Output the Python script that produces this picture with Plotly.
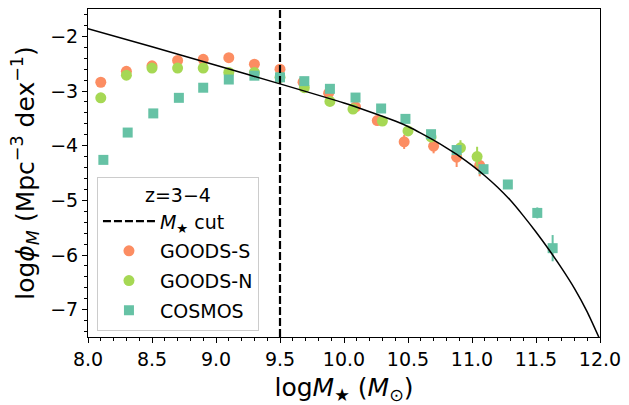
import plotly.graph_objects as go

# ---------------- data ----------------
gs_x = [8.1, 8.3, 8.5, 8.7, 8.9, 9.1, 9.3, 9.5, 9.68, 9.88, 10.09, 10.26, 10.47, 10.70, 10.88, 11.06]
gs_y = [-2.84, -2.64, -2.54, -2.44, -2.42, -2.39, -2.51, -2.60, -2.84, -3.04, -3.29, -3.54, -3.93, -4.01, -4.21, -4.36]
gs_err = [0.03, 0.03, 0.03, 0.03, 0.03, 0.03, 0.04, 0.04, 0.05, 0.05, 0.06, 0.07, 0.13, 0.13, 0.18, 0.20]

gn_x = [8.1, 8.3, 8.5, 8.7, 8.9, 9.1, 9.3, 9.5, 9.69, 9.89, 10.07, 10.30, 10.50, 10.68, 10.91, 11.04]
gn_y = [-3.125, -2.71, -2.58, -2.58, -2.58, -2.66, -2.66, -2.75, -2.94, -3.19, -3.33, -3.55, -3.73, -3.84, -4.04, -4.20]
gn_err = [0.03, 0.03, 0.03, 0.03, 0.03, 0.03, 0.04, 0.04, 0.05, 0.05, 0.06, 0.07, 0.08, 0.09, 0.14, 0.18]

cos_x = [8.12, 8.31, 8.51, 8.71, 8.90, 9.10, 9.30, 9.50, 9.69, 9.89, 10.09, 10.29, 10.48, 10.68, 10.88, 11.09, 11.28, 11.51, 11.63]
cos_y = [-4.26, -3.76, -3.41, -3.125, -2.94, -2.79, -2.72, -2.75, -2.82, -2.96, -3.12, -3.32, -3.51, -3.79, -4.08, -4.43, -4.71, -5.23, -5.875]
cos_err = [0.03, 0.03, 0.03, 0.03, 0.03, 0.03, 0.03, 0.03, 0.03, 0.03, 0.03, 0.03, 0.04, 0.04, 0.05, 0.06, 0.07, 0.10, 0.24]

# model curve
fit_x = [8.0, 8.5, 9.0, 9.5, 10.0, 10.2, 10.4, 10.5, 10.6, 10.7, 10.8, 10.9, 11.0,
         11.1, 11.2, 11.3, 11.4, 11.5, 11.6, 11.7, 11.8, 11.9, 12.0]
fit_y = [-1.86, -2.19, -2.53, -2.87, -3.22, -3.38, -3.55, -3.65, -3.77, -3.90, -4.04, -4.19, -4.36,
         -4.55, -4.76, -5.00, -5.28, -5.58, -5.90, -6.24, -6.61, -7.04, -7.55]

mstar_cut = 9.5
x_range = [8.0, 12.0]
y_range = [-7.5, -1.5]

C_GS = "#fc8d62"
C_GN = "#a6d854"
C_COS = "#66c2a5"

fig = go.Figure()

fig.add_trace(go.Scatter(
    x=gs_x, y=gs_y, mode="markers", name="GOODS-S",
    marker=dict(symbol="circle", size=11, color=C_GS, line=dict(width=0)),
    error_y=dict(type="data", array=gs_err, color=C_GS, thickness=2, width=0),
    legendgroup="a2", legendrank=2,
))
fig.add_trace(go.Scatter(
    x=gn_x, y=gn_y, mode="markers", name="GOODS-N",
    marker=dict(symbol="circle", size=11, color=C_GN, line=dict(width=0)),
    error_y=dict(type="data", array=gn_err, color=C_GN, thickness=2, width=0),
    legendgroup="a3", legendrank=3,
))
fig.add_trace(go.Scatter(
    x=cos_x, y=cos_y, mode="markers", name="COSMOS",
    marker=dict(symbol="square", size=10, color=C_COS, line=dict(width=0)),
    error_y=dict(type="data", array=cos_err, color=C_COS, thickness=2, width=0),
    legendgroup="a4", legendrank=4,
))
fig.add_trace(go.Scatter(
    x=fit_x, y=fit_y, mode="lines", showlegend=False,
    line=dict(color="black", width=1.5, shape="spline", smoothing=0.6),
    hoverinfo="skip",
))
fig.add_trace(go.Scatter(
    x=[mstar_cut, mstar_cut], y=y_range, mode="lines",
    name="<i>M</i><sub>★</sub> cut",
    line=dict(color="black", width=2.2, dash="8px,3px"),
    legendgroup="a1", legendrank=1,
))

axis_common = dict(
    ticks="outside", ticklen=5, tickwidth=1, tickcolor="black",
    showline=True, linecolor="black", linewidth=1, mirror=True,
    showgrid=False, zeroline=False,
    tickfont=dict(size=19, color="black"),
)

fig.update_layout(
    width=629, height=405,
    margin=dict(l=88, r=26, t=8, b=61),
    plot_bgcolor="white", paper_bgcolor="white",
    font=dict(family="DejaVu Sans", size=19, color="black"),
    legend=dict(
        x=0.0175, y=0.489, xanchor="left", yanchor="top",
        bordercolor="#cccccc", borderwidth=1, bgcolor="rgba(255,255,255,0.8)",
        font=dict(size=19),
        title=dict(text="z=3−4", side="top center", font=dict(size=19)),
        traceorder="grouped", tracegroupgap=2, itemwidth=52,
    ),
    xaxis=dict(
        range=x_range, tick0=8.0, dtick=0.5, tickformat=".1f",
        minor=dict(dtick=0.1, ticks="outside", ticklen=3, tickcolor="black", showgrid=False),
        title=dict(text="log<i>M</i><sub>★</sub> (<i>M</i><sub>⊙</sub>)", font=dict(size=25), standoff=10),
        **axis_common,
    ),
    yaxis=dict(
        range=y_range, tick0=-7, dtick=1,
        minor=dict(dtick=0.2, ticks="outside", ticklen=3, tickcolor="black", showgrid=False),
        title=dict(text="log<i>ϕ</i><sub><i>M</i></sub> (Mpc<sup>−3</sup> dex<sup>−1</sup>)", font=dict(size=25), standoff=8),
        **axis_common,
    ),
)

fig.write_html("out.html")
